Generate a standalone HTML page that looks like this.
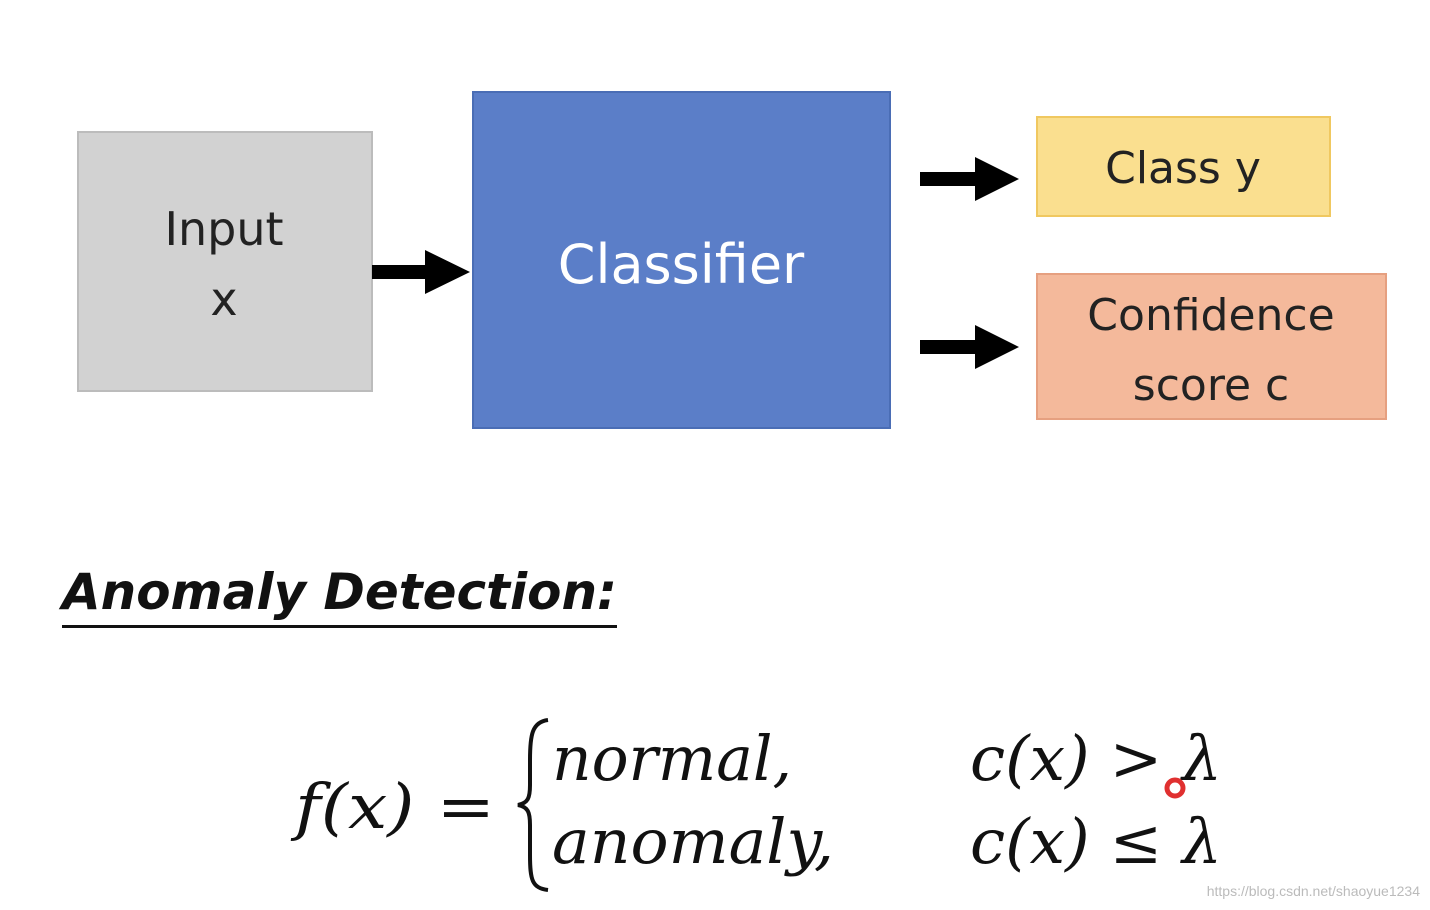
<!DOCTYPE html>
<html><head><style>
body{margin:0;background:#fff;}
svg{display:block}
</style></head><body>
<svg width="1430" height="910" xmlns="http://www.w3.org/2000/svg">
<rect x="78" y="132" width="294" height="259" fill="#d2d2d2" stroke="#bcbcbc" stroke-width="2"/>
<rect x="473" y="92" width="417" height="336" fill="#5b7ec8" stroke="#4a6db5" stroke-width="2"/>
<rect x="1037" y="117" width="293" height="99" fill="#fadf8f" stroke="#f0c860" stroke-width="2"/>
<rect x="1037" y="274" width="349" height="145" fill="#f4b99b" stroke="#e6a080" stroke-width="2"/>
<g fill="#000">
<polygon points="372,265 425,265 425,250 470,272 425,294 425,279 372,279"/>
<polygon points="920,172 975,172 975,157 1019,179 975,201 975,186 920,186"/>
<polygon points="920,340 975,340 975,325 1019,347 975,369 975,354 920,354"/>
</g>
<g font-family="'DejaVu Sans','Liberation Sans',sans-serif" text-anchor="middle">
<text x="224" y="245" font-size="46" fill="#222">Input</text>
<text x="224" y="315" font-size="46" fill="#222">x</text>
<text x="681" y="283" font-size="54" fill="#fff">Classifier</text>
<text x="1183" y="183" font-size="44" fill="#222">Class y</text>
<text x="1211" y="330" font-size="44" fill="#222">Confidence</text>
<text x="1211" y="400" font-size="44" fill="#222">score c</text>
</g>
<text x="62" y="609" font-family="'DejaVu Sans','Liberation Sans',sans-serif" font-weight="bold" font-style="italic" font-size="50" fill="#111" textLength="555" lengthAdjust="spacingAndGlyphs">Anomaly Detection:</text>
<rect x="62" y="625" width="555" height="3" fill="#111"/>
<g font-family="'DejaVu Serif','Liberation Serif',serif" font-style="italic" font-size="62" fill="#111">
<text x="295" y="828" textLength="200" lengthAdjust="spacingAndGlyphs">f(x) =</text>
<text x="552" y="780" textLength="240" lengthAdjust="spacingAndGlyphs">normal,</text>
<text x="552" y="863" textLength="282" lengthAdjust="spacingAndGlyphs">anomaly,</text>
<text x="970" y="780" textLength="252" lengthAdjust="spacingAndGlyphs">c(x) &gt; λ</text>
<text x="970" y="863" textLength="252" lengthAdjust="spacingAndGlyphs">c(x) ≤ λ</text>
</g>
<path d="M548,720 C532,722 530,735 530,760 L530,785 C530,798 528,803 518,805 C528,807 530,812 530,825 L530,855 C530,880 532,888 548,890" fill="none" stroke="#111" stroke-width="4"/>
<circle cx="1175" cy="788" r="8" fill="none" stroke="#e03030" stroke-width="5"/>
<text x="1420" y="896" text-anchor="end" font-family="'Liberation Sans',sans-serif" font-size="14" fill="#bbb">https://blog.csdn.net/shaoyue1234</text>
</svg>
</body></html>
